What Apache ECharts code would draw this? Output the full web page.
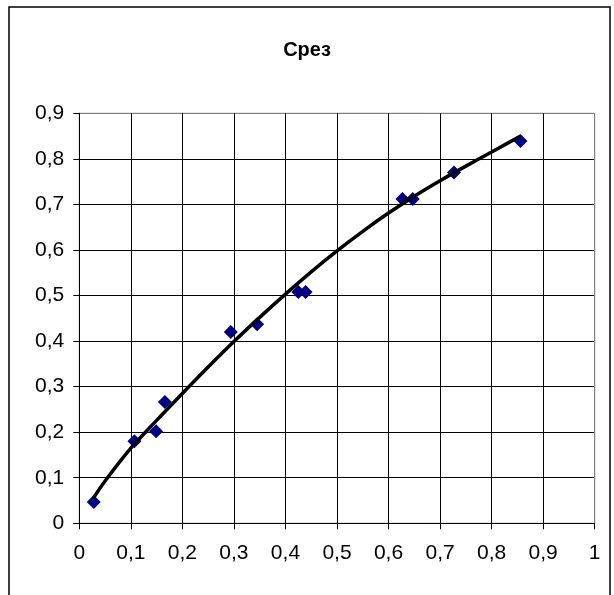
<!DOCTYPE html>
<html>
<head>
<meta charset="utf-8">
<script src="https://cdn.jsdelivr.net/npm/echarts@6/dist/echarts.min.js"></script>
<style>
html,body{margin:0;padding:0;background:#fff;}
#chart{width:614px;height:595px;}
</style>
</head>
<body>
<div id="chart"></div>
<script>
// Observed data points
const pointsX = [0.028, 0.107, 0.149, 0.166, 0.294, 0.345, 0.425, 0.439, 0.627, 0.647, 0.727, 0.856];
const pointsY = [0.047, 0.180, 0.202, 0.266, 0.420, 0.437, 0.508, 0.508, 0.712, 0.712, 0.770, 0.839];
// Trend line
const trendX = [0.027, 0.05, 0.1, 0.15, 0.2, 0.25, 0.3, 0.35, 0.4, 0.45, 0.5, 0.55, 0.6, 0.65, 0.7, 0.75, 0.8, 0.856];
const trendY = [0.055, 0.093, 0.165, 0.226, 0.285, 0.343, 0.399, 0.452, 0.503, 0.552, 0.598, 0.641, 0.681, 0.718, 0.752, 0.784, 0.815, 0.850];
// Axis ticks
const xTicks = [0, 0.1, 0.2, 0.3, 0.4, 0.5, 0.6, 0.7, 0.8, 0.9, 1];
const yTicks = [0, 0.1, 0.2, 0.3, 0.4, 0.5, 0.6, 0.7, 0.8, 0.9];
const titleText = 'Срез';

const fmt = v => String(+(+v).toFixed(1)).replace('.', ',');

const chart = echarts.init(document.getElementById('chart'));
const font = 'Arial, "Liberation Sans", sans-serif';
chart.setOption({
  backgroundColor: '#fff',
  animation: false,
  title: {
    text: titleText,
    left: 'center',
    top: 35,
    textStyle: {fontFamily: font, fontSize: 20, fontWeight: 'bold', color: '#000'}
  },
  graphic: [{
    type: 'rect',
    shape: {x: 9, y: 7, width: 601, height: 610},
    style: {fill: 'none', stroke: '#000', lineWidth: 1.5},
    silent: true
  }],
  grid: {
    left: 79.3, right: 19.3, top: 113.3, bottom: 71.7,
    show: true, borderColor: '#808080', borderWidth: 1, backgroundColor: '#fff'
  },
  xAxis: {
    type: 'value',
    min: xTicks[0], max: xTicks[xTicks.length - 1], interval: 0.1,
    axisLine: {show: true, lineStyle: {color: '#000', width: 1}},
    axisTick: {show: true, length: 6, lineStyle: {color: '#000'}},
    splitLine: {show: true, lineStyle: {color: ['#808080','#000','#000','#000','#000','#000','#000','#000','#000','#000','#808080'], width: 1}},
    axisLabel: {fontFamily: font, fontSize: 21, color: '#000', margin: 19, formatter: fmt, showMinLabel: true, showMaxLabel: true}
  },
  yAxis: {
    type: 'value',
    min: yTicks[0], max: yTicks[yTicks.length - 1], interval: 0.1,
    axisLine: {show: true, lineStyle: {color: '#000', width: 1}},
    axisTick: {show: true, length: 6, lineStyle: {color: '#000'}},
    splitLine: {show: true, lineStyle: {color: ['#000','#000','#000','#000','#000','#000','#000','#000','#000','#808080'], width: 1}},
    axisLabel: {fontFamily: font, fontSize: 21, color: '#000', margin: 15, formatter: fmt, showMinLabel: true, showMaxLabel: true}
  },
  series: [
    {
      type: 'scatter',
      data: pointsX.map((x, i) => [x, pointsY[i]]),
      symbol: 'diamond',
      symbolSize: 14,
      itemStyle: {color: '#000080', opacity: 1},
      z: 2
    },
    {
      type: 'line',
      data: trendX.map((x, i) => [x, trendY[i]]),
      smooth: 0.3,
      showSymbol: false,
      symbol: 'none',
      lineStyle: {color: '#000', width: 3.5},
      z: 3
    }
  ]
});
</script>
</body>
</html>
